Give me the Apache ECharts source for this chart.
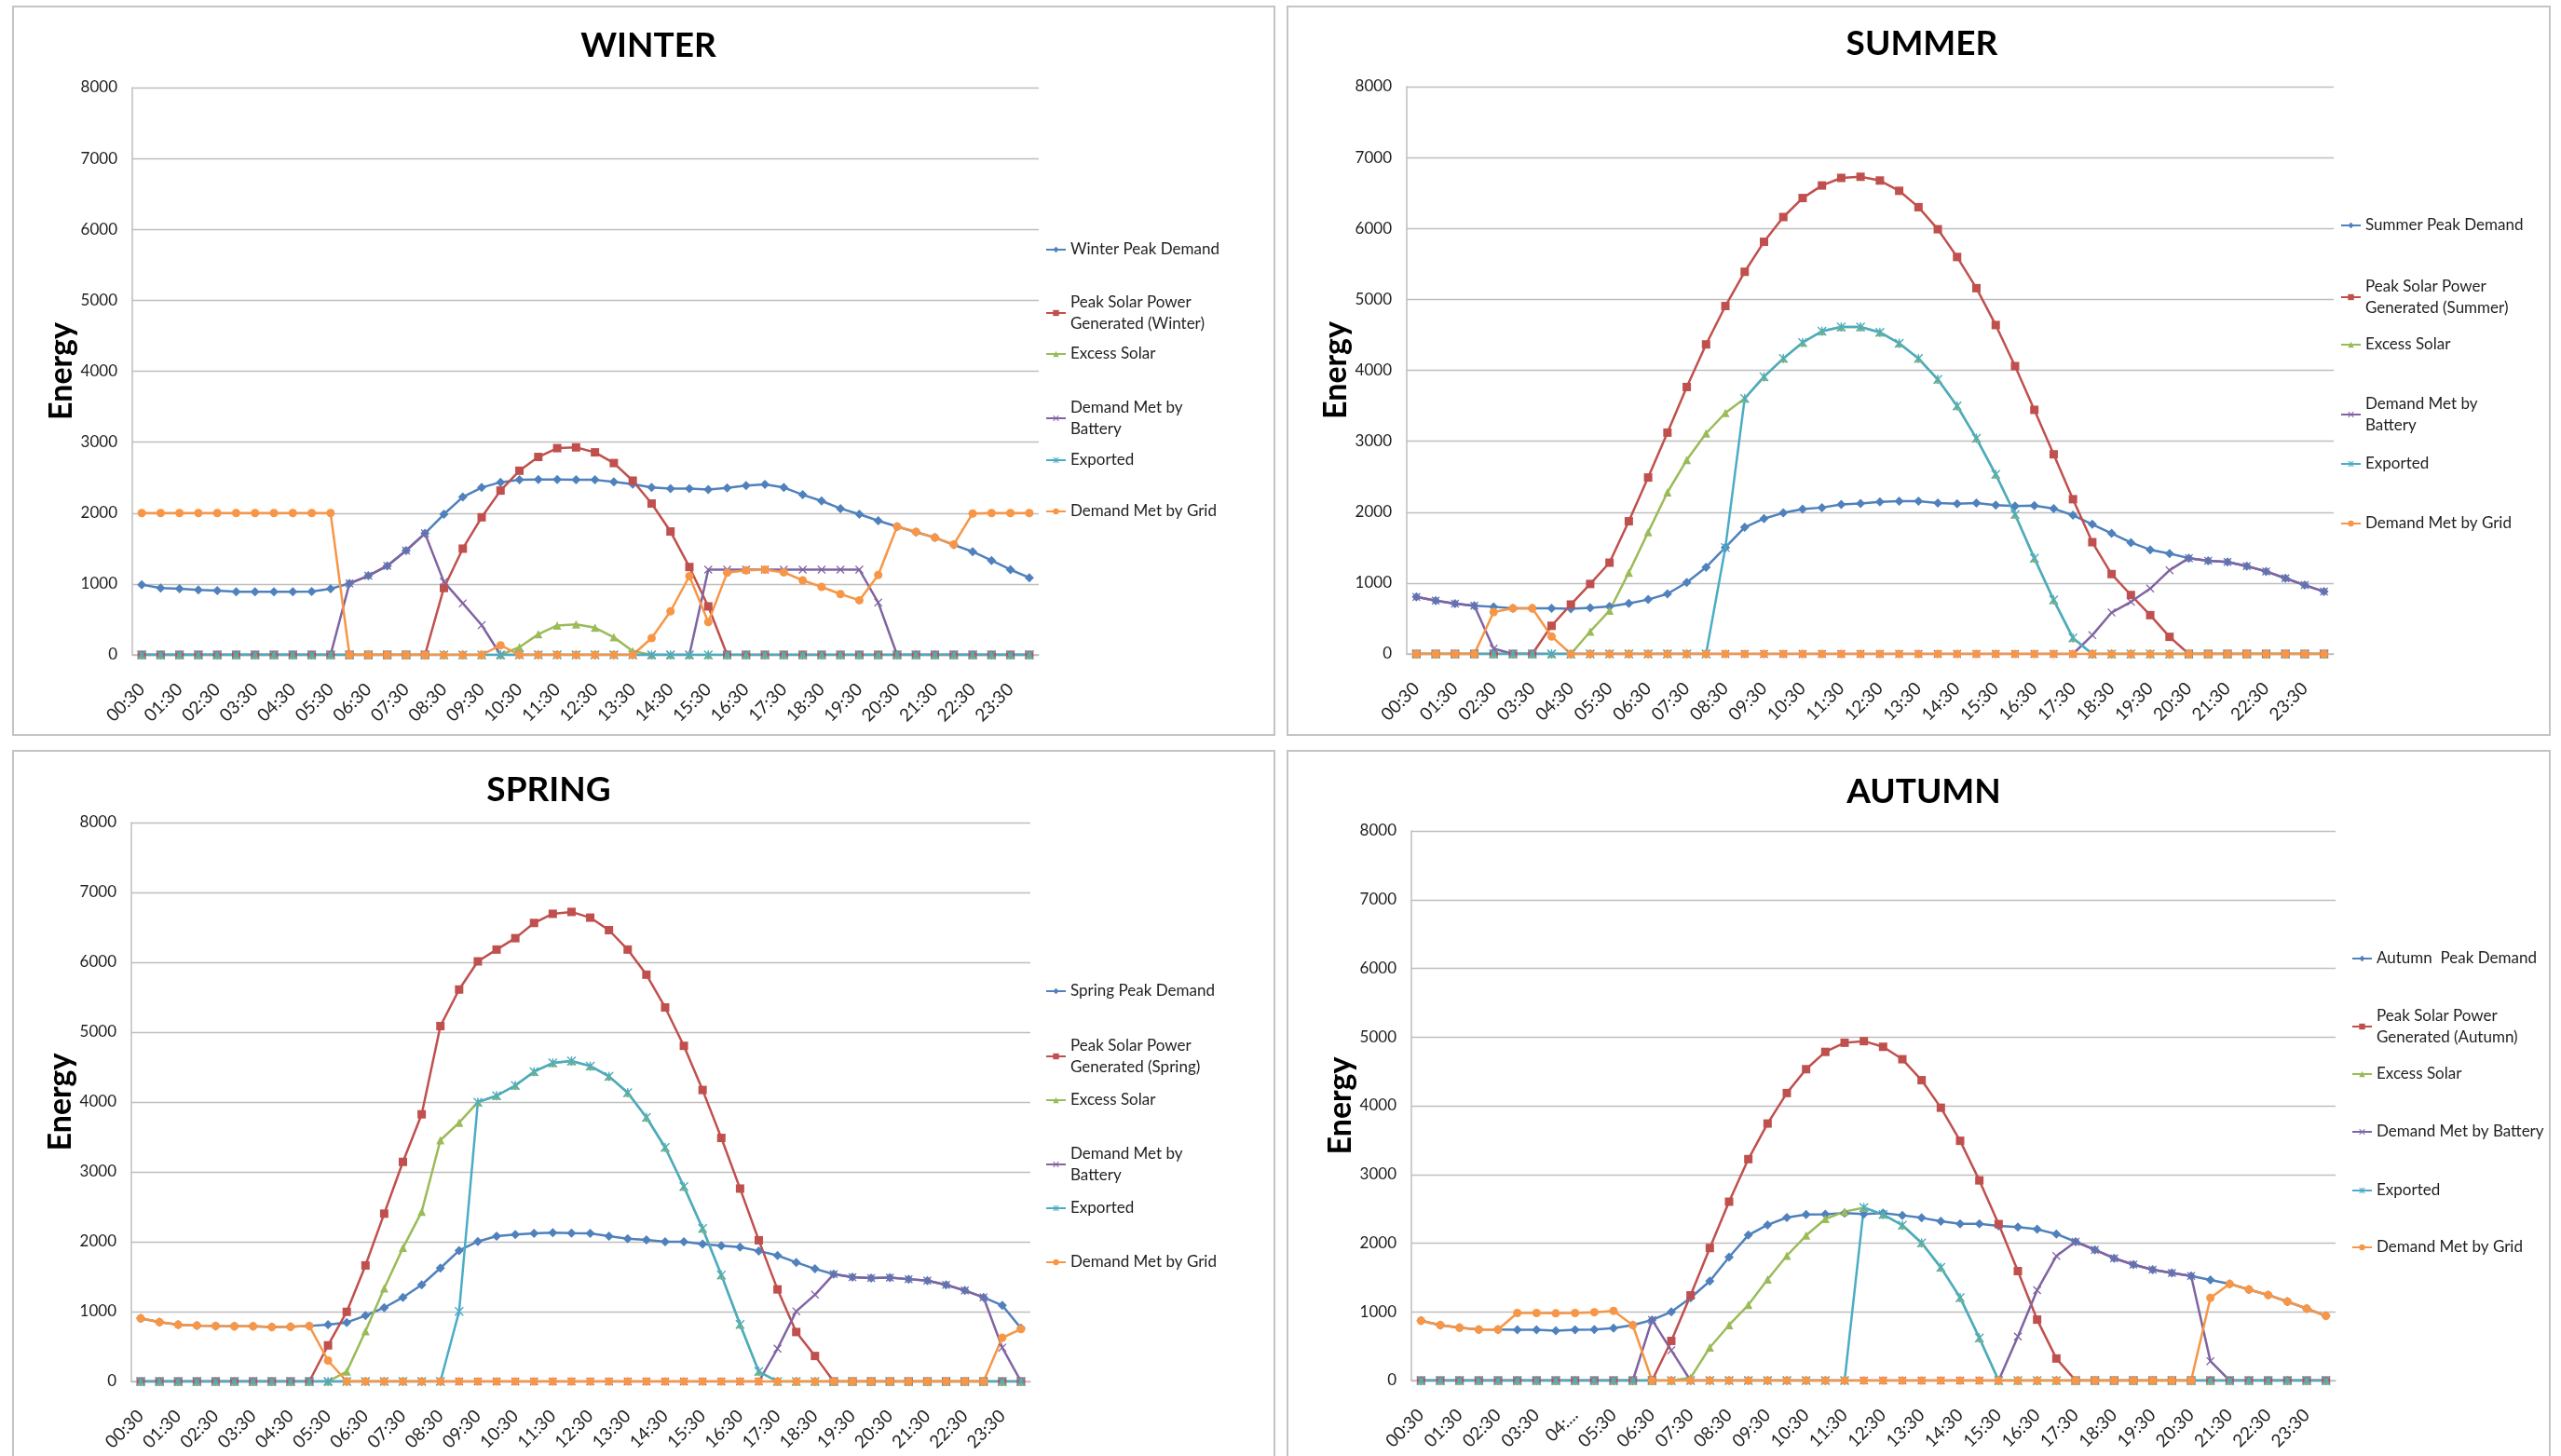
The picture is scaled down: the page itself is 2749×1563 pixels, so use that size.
<!DOCTYPE html>
<html>
<head>
<meta charset="utf-8">
<title>Seasonal energy balance</title>
<script src="https://cdn.jsdelivr.net/npm/echarts@6/dist/echarts.min.js"></script>
<style>
  html, body { margin: 0; padding: 0; background: #ffffff; }
  #chart { width: 2749px; height: 1563px; }
</style>
</head>
<body>
<div id="chart"></div>
<script>
// Half-hourly time slots (00:30 ... 00:00)
const times = ['00:30','01:00','01:30','02:00','02:30','03:00','03:30','04:00','04:30','05:00',
  '05:30','06:00','06:30','07:00','07:30','08:00','08:30','09:00','09:30','10:00',
  '10:30','11:00','11:30','12:00','12:30','13:00','13:30','14:00','14:30','15:00',
  '15:30','16:00','16:30','17:00','17:30','18:00','18:30','19:00','19:30','20:00',
  '20:30','21:00','21:30','22:00','22:30','23:00','23:30','00:00'];
// The autumn axis shows one slot truncated
const autumnTimes = times.map(t => (t === '04:30' ? '04:...' : t));

const yTicks = [0, 1000, 2000, 3000, 4000, 5000, 6000, 7000, 8000];

// ---------- WINTER ----------
const winterDemand = [990,943,932,916,905,889,889,889,889,894,932,1007,1115,1255,1471,1713,1983,2225,2360,2435,
  2468,2473,2473,2468,2468,2441,2408,2360,2344,2344,2333,2354,2387,2403,2360,2258,2171,2064,1983,1891,
  1810,1730,1654,1552,1455,1331,1202,1088];
const winterSolar = [0,0,0,0,0,0,0,0,0,0,0,0,0,0,0,0,943,1498,1940,2317,
  2597,2791,2915,2926,2856,2705,2457,2134,1740,1239,684,0,0,0,0,0,0,0,0,0,
  0,0,0,0,0,0,0,0];
const winterExcess = [0,0,0,0,0,0,0,0,0,0,0,0,0,0,0,0,0,0,0,0,
  108,291,415,431,383,248,54,0,0,0,0,0,0,0,0,0,0,0,0,0,
  0,0,0,0,0,0,0,0];
const winterBattery = [0,0,0,0,0,0,0,0,0,0,0,1007,1115,1255,1471,1713,1030,727,420,0,
  0,0,0,0,0,0,0,0,0,0,1202,1202,1202,1202,1202,1202,1202,1202,1202,738,
  0,0,0,0,0,0,0,0];
const winterExported = [0,0,0,0,0,0,0,0,0,0,0,0,0,0,0,0,0,0,0,0,
  0,0,0,0,0,0,0,0,0,0,0,0,0,0,0,0,0,0,0,0,
  0,0,0,0,0,0,0,0];
const winterGrid = [2000,2000,2000,2000,2000,2000,2000,2000,2000,2000,2000,0,0,0,0,0,0,0,0,135,
  0,0,0,0,0,0,0,237,614,1110,463,1158,1191,1202,1164,1051,959,857,770,1126,
  1810,1735,1654,1557,1994,2000,2000,2000];

// ---------- SUMMER ----------
const summerDemand = [804,751,708,681,665,643,643,643,638,649,670,713,767,847,1008,1223,1501,1786,1909,1989,
  2043,2064,2107,2123,2145,2155,2155,2129,2118,2129,2097,2086,2091,2048,1957,1828,1700,1571,1469,1416,
  1351,1314,1298,1239,1164,1067,971,879];
const summerSolar = [0,0,0,0,0,0,0,397,697,987,1287,1871,2488,3121,3764,4365,4906,5389,5812,6161,
  6429,6606,6713,6729,6676,6531,6300,5989,5598,5158,4638,4059,3442,2815,2182,1576,1126,831,547,241,
  0,0,0,0,0,0,0,0];
const summerExcess = [0,0,0,0,0,0,0,0,0,316,611,1147,1716,2279,2735,3110,3399,3603,3909,4166,
  4391,4552,4611,4611,4536,4381,4166,3871,3496,3040,2531,1968,1351,761,225,0,0,0,0,0,
  0,0,0,0,0,0,0,0];
const summerBattery = [804,751,708,681,75,0,0,0,0,0,0,0,0,0,0,0,0,0,0,0,
  0,0,0,0,0,0,0,0,0,0,0,0,0,0,0,265,584,735,922,1180,
  1351,1314,1298,1239,1164,1067,971,879];
const summerExported = [0,0,0,0,0,0,0,0,0,0,0,0,0,0,0,0,1500,3603,3909,4166,
  4391,4552,4611,4611,4536,4381,4166,3871,3496,3040,2531,1968,1351,761,225,0,0,0,0,0,
  0,0,0,0,0,0,0,0];
const summerGrid = [0,0,0,0,590,643,643,247,0,0,0,0,0,0,0,0,0,0,0,0,
  0,0,0,0,0,0,0,0,0,0,0,0,0,0,0,0,0,0,0,0,
  0,0,0,0,0,0,0,0];

// ---------- SPRING ----------
const springDemand = [904,850,812,801,795,790,790,779,784,795,812,844,942,1057,1204,1383,1623,1874,2004,2081,
  2102,2119,2130,2124,2119,2081,2042,2026,1999,1999,1966,1944,1923,1868,1803,1705,1612,1536,1492,1481,
  1487,1465,1443,1383,1302,1204,1089,762];
const springSolar = [0,0,0,0,0,0,0,0,0,0,517,997,1661,2402,3143,3824,5087,5610,6013,6182,
  6345,6563,6694,6721,6639,6460,6182,5822,5354,4804,4172,3486,2761,2021,1318,708,365,0,0,0,
  0,0,0,0,0,0,0,0];
const springExcess = [0,0,0,0,0,0,0,0,0,0,0,142,719,1334,1912,2429,3453,3704,3998,4090,
  4237,4434,4559,4586,4515,4368,4134,3780,3350,2789,2190,1525,817,142,0,0,0,0,0,0,
  0,0,0,0,0,0,0,0];
const springBattery = [0,0,0,0,0,0,0,0,0,0,0,0,0,0,0,0,0,0,0,0,
  0,0,0,0,0,0,0,0,0,0,0,0,0,0,470,1005,1242,1536,1492,1481,
  1487,1465,1443,1383,1302,1204,485,0];
const springExported = [0,0,0,0,0,0,0,0,0,0,0,0,0,0,0,0,0,1002,3998,4090,
  4237,4434,4559,4586,4515,4368,4134,3780,3350,2789,2190,1525,817,142,0,0,0,0,0,0,
  0,0,0,0,0,0,0,0];
const springGrid = [904,850,812,801,795,790,790,779,784,795,300,0,0,0,0,0,0,0,0,0,
  0,0,0,0,0,0,0,0,0,0,0,0,0,0,0,0,0,0,0,0,
  0,0,0,0,0,0,626,750];

// ---------- AUTUMN ----------
const autumnDemand = [871,807,770,743,743,738,738,727,738,743,764,807,882,999,1203,1448,1796,2117,2266,2373,
  2416,2421,2437,2424,2437,2405,2368,2320,2282,2282,2250,2234,2202,2133,2020,1903,1780,1689,1614,1566,
  1523,1464,1406,1326,1245,1149,1048,941];
const autumnSolar = [0,0,0,0,0,0,0,0,0,0,0,0,0,577,1240,1929,2603,3223,3741,4185,
  4532,4784,4917,4940,4858,4677,4372,3971,3490,2913,2277,1593,887,321,0,0,0,0,0,0,
  0,0,0,0,0,0,0,0];
const autumnExcess = [0,0,0,0,0,0,0,0,0,0,0,0,0,0,40,481,807,1101,1470,1817,
  2111,2352,2459,2516,2416,2261,2004,1646,1208,620,0,0,0,0,0,0,0,0,0,0,
  0,0,0,0,0,0,0,0];
const autumnBattery = [0,0,0,0,0,0,0,0,0,0,0,0,882,440,0,0,0,0,0,0,
  0,0,0,0,0,0,0,0,0,0,0,641,1315,1812,2020,1903,1780,1689,1614,1566,
  1523,283,0,0,0,0,0,0];
const autumnExported = [0,0,0,0,0,0,0,0,0,0,0,0,0,0,0,0,0,0,0,0,
  0,0,0,2520,2416,2261,2004,1646,1208,620,0,0,0,0,0,0,0,0,0,0,
  0,0,0,0,0,0,0,0];
const autumnGrid = [871,807,770,743,743,983,983,978,983,994,1015,807,0,0,0,0,0,0,0,0,
  0,0,0,0,0,0,0,0,0,0,0,0,0,0,0,0,0,0,0,0,
  0,1203,1406,1326,1245,1149,1048,941];

// Series names and the legend wording (wrapped where the legend wraps)
const winterNames = ['Winter Peak Demand', 'Peak Solar Power Generated (Winter)', 'Excess Solar', 'Demand Met by Battery', 'Exported', 'Demand Met by Grid'];
const winterLegend = ['Winter Peak Demand', 'Peak Solar Power\nGenerated (Winter)', 'Excess Solar', 'Demand Met by\nBattery', 'Exported', 'Demand Met by Grid'];
const summerNames = ['Summer Peak Demand', 'Peak Solar Power Generated (Summer)', 'Excess Solar', 'Demand Met by Battery', 'Exported', 'Demand Met by Grid'];
const summerLegend = ['Summer Peak Demand', 'Peak Solar Power\nGenerated (Summer)', 'Excess Solar', 'Demand Met by\nBattery', 'Exported', 'Demand Met by Grid'];
const springNames = ['Spring Peak Demand', 'Peak Solar Power Generated (Spring)', 'Excess Solar', 'Demand Met by Battery', 'Exported', 'Demand Met by Grid'];
const springLegend = ['Spring Peak Demand', 'Peak Solar Power\nGenerated (Spring)', 'Excess Solar', 'Demand Met by\nBattery', 'Exported', 'Demand Met by Grid'];
const autumnNames = ['Autumn  Peak Demand', 'Peak Solar Power Generated (Autumn)', 'Excess Solar', 'Demand Met by Battery', 'Exported', 'Demand Met by Grid'];
const autumnLegend = ['Autumn  Peak Demand', 'Peak Solar Power\nGenerated (Autumn)', 'Excess Solar', 'Demand Met by Battery', 'Exported', 'Demand Met by Grid'];

const seasonTitles = ['WINTER', 'SUMMER', 'SPRING', 'AUTUMN'];
const axisTitle = 'Energy';

// ---------- styling ----------
const FONT = 'Lato, "Open Sans", "DejaVu Sans", sans-serif';
const TEXT = '#1f1f1f';
const GRIDLINE = '#BEBEBE';
const colors = ['#4F81BD', '#C0504D', '#9BBB59', '#8064A2', '#4BACC6', '#F79646'];
const X_MARK = 'path://M1,0 L5,4 L9,0 L10,1 L6,5 L10,9 L9,10 L5,6 L1,10 L0,9 L4,5 L0,1 Z';
const STAR_MARK = 'path://M1,0 L5,4 L9,0 L10,1 L6,5 L10,9 L9,10 L5,6 L1,10 L0,9 L4,5 L0,1 Z M4.4,0 L5.6,0 L5.6,10 L4.4,10 Z';
const symbols = ['diamond', 'rect', 'triangle', X_MARK, STAR_MARK, 'circle'];
const symbolSizes = [10, 9, 9, 9, 10, 9];
const LEGEND_LINE = 23;
const TWO_LINE_SHIFT = 12;

// Panel layout: plot rectangle, frame, title anchor, legend column
const panels = [
  { title: seasonTitles[0], titleX: 691, titleY: 26, ticks: times,
    grid: { left: 142, top: 94, width: 973, height: 609 },
    frame: { x: 14, y: 7, width: 1354, height: 782 },
    names: winterNames, legendText: winterLegend,
    legendX: 1122, legendY: [268, 324, 380, 437, 494, 549],
    data: [winterDemand, winterSolar, winterExcess, winterBattery, winterExported, winterGrid] },
  { title: seasonTitles[1], titleX: 2058, titleY: 24, ticks: times,
    grid: { left: 1510, top: 93, width: 995, height: 609 },
    frame: { x: 1382, y: 7, width: 1355, height: 782 },
    names: summerNames, legendText: summerLegend,
    legendX: 2512, legendY: [242, 307, 370, 433, 498, 562],
    data: [summerDemand, summerSolar, summerExcess, summerBattery, summerExported, summerGrid] },
  { title: seasonTitles[2], titleX: 584, titleY: 825, ticks: times,
    grid: { left: 141, top: 883, width: 965, height: 600 },
    frame: { x: 14, y: 806, width: 1354, height: 800 },
    names: springNames, legendText: springLegend,
    legendX: 1122, legendY: [1064, 1122, 1181, 1238, 1297, 1355],
    data: [springDemand, springSolar, springExcess, springBattery, springExported, springGrid] },
  { title: seasonTitles[3], titleX: 2060, titleY: 827, ticks: autumnTimes,
    grid: { left: 1515, top: 892, width: 992, height: 590 },
    frame: { x: 1382, y: 806, width: 1355, height: 800 },
    names: autumnNames, legendText: autumnLegend,
    legendX: 2524, legendY: [1029, 1090, 1153, 1215, 1278, 1339],
    data: [autumnDemand, autumnSolar, autumnExcess, autumnBattery, autumnExported, autumnGrid] }
];

const option = {
  backgroundColor: '#ffffff',
  animation: false,
  textStyle: { fontFamily: FONT },
  title: [], grid: [], xAxis: [], yAxis: [], series: [], legend: [],
  graphic: []
};

panels.forEach((p, pi) => {
  option.graphic.push({
    type: 'rect', silent: true, z: -10,
    shape: { x: p.frame.x, y: p.frame.y, width: p.frame.width, height: p.frame.height },
    style: { fill: 'none', stroke: '#C4C4C4', lineWidth: 2 }
  });

  option.title.push({
    text: p.title, left: p.titleX, top: p.titleY, textAlign: 'center',
    textStyle: { fontFamily: FONT, fontSize: 37, fontWeight: 'bold', color: '#000000' }
  });

  option.grid.push(Object.assign({ containLabel: false }, p.grid));

  option.xAxis.push({
    type: 'category', gridIndex: pi, data: p.ticks, boundaryGap: true,
    axisLine: { show: true, lineStyle: { color: GRIDLINE, width: 1.5 } },
    axisTick: { show: false },
    axisLabel: { interval: 1, rotate: 45, margin: 34, fontSize: 19, color: TEXT, fontFamily: FONT },
    splitLine: { show: false }
  });

  option.yAxis.push({
    type: 'value', gridIndex: pi,
    min: yTicks[0], max: yTicks[yTicks.length - 1], interval: yTicks[1] - yTicks[0],
    name: axisTitle, nameLocation: 'middle', nameRotate: 90, nameGap: 58,
    nameTextStyle: { fontSize: 34, fontWeight: 'bold', color: '#000000', fontFamily: FONT },
    axisLine: { show: true, lineStyle: { color: GRIDLINE, width: 1.5 } },
    axisTick: { show: false },
    axisLabel: { margin: 16, fontSize: 17, color: TEXT, fontFamily: FONT, formatter: v => String(v) },
    splitLine: { show: true, lineStyle: { color: GRIDLINE, width: 1.3 } }
  });

  p.names.forEach((name, si) => {
    option.series.push({
      type: 'line', name: name, data: p.data[si],
      xAxisIndex: pi, yAxisIndex: pi,
      symbol: symbols[si], symbolSize: symbolSizes[si], showAllSymbol: true,
      lineStyle: { color: colors[si], width: 2.5 },
      itemStyle: { color: colors[si] },
      emphasis: { disabled: true },
      silent: true
    });

    const label = p.legendText[si];
    const twoLines = label.indexOf('\n') >= 0;
    option.legend.push({
      data: [name], orient: 'vertical', selectedMode: false,
      left: p.legendX,
      top: p.legendY[si] - (twoLines ? 1.5 * LEGEND_LINE - TWO_LINE_SHIFT : LEGEND_LINE / 2),
      padding: 0, itemWidth: 21, itemHeight: 8, itemGap: 0,
      formatter: () => label,
      textStyle: {
        fontFamily: FONT, fontSize: 17, color: TEXT, lineHeight: LEGEND_LINE,
        padding: twoLines ? [LEGEND_LINE, 0, 0, 0] : 0
      }
    });
  });
});

const chart = echarts.init(document.getElementById('chart'), null, { renderer: 'canvas' });
chart.setOption(option);
</script>
</body>
</html>
